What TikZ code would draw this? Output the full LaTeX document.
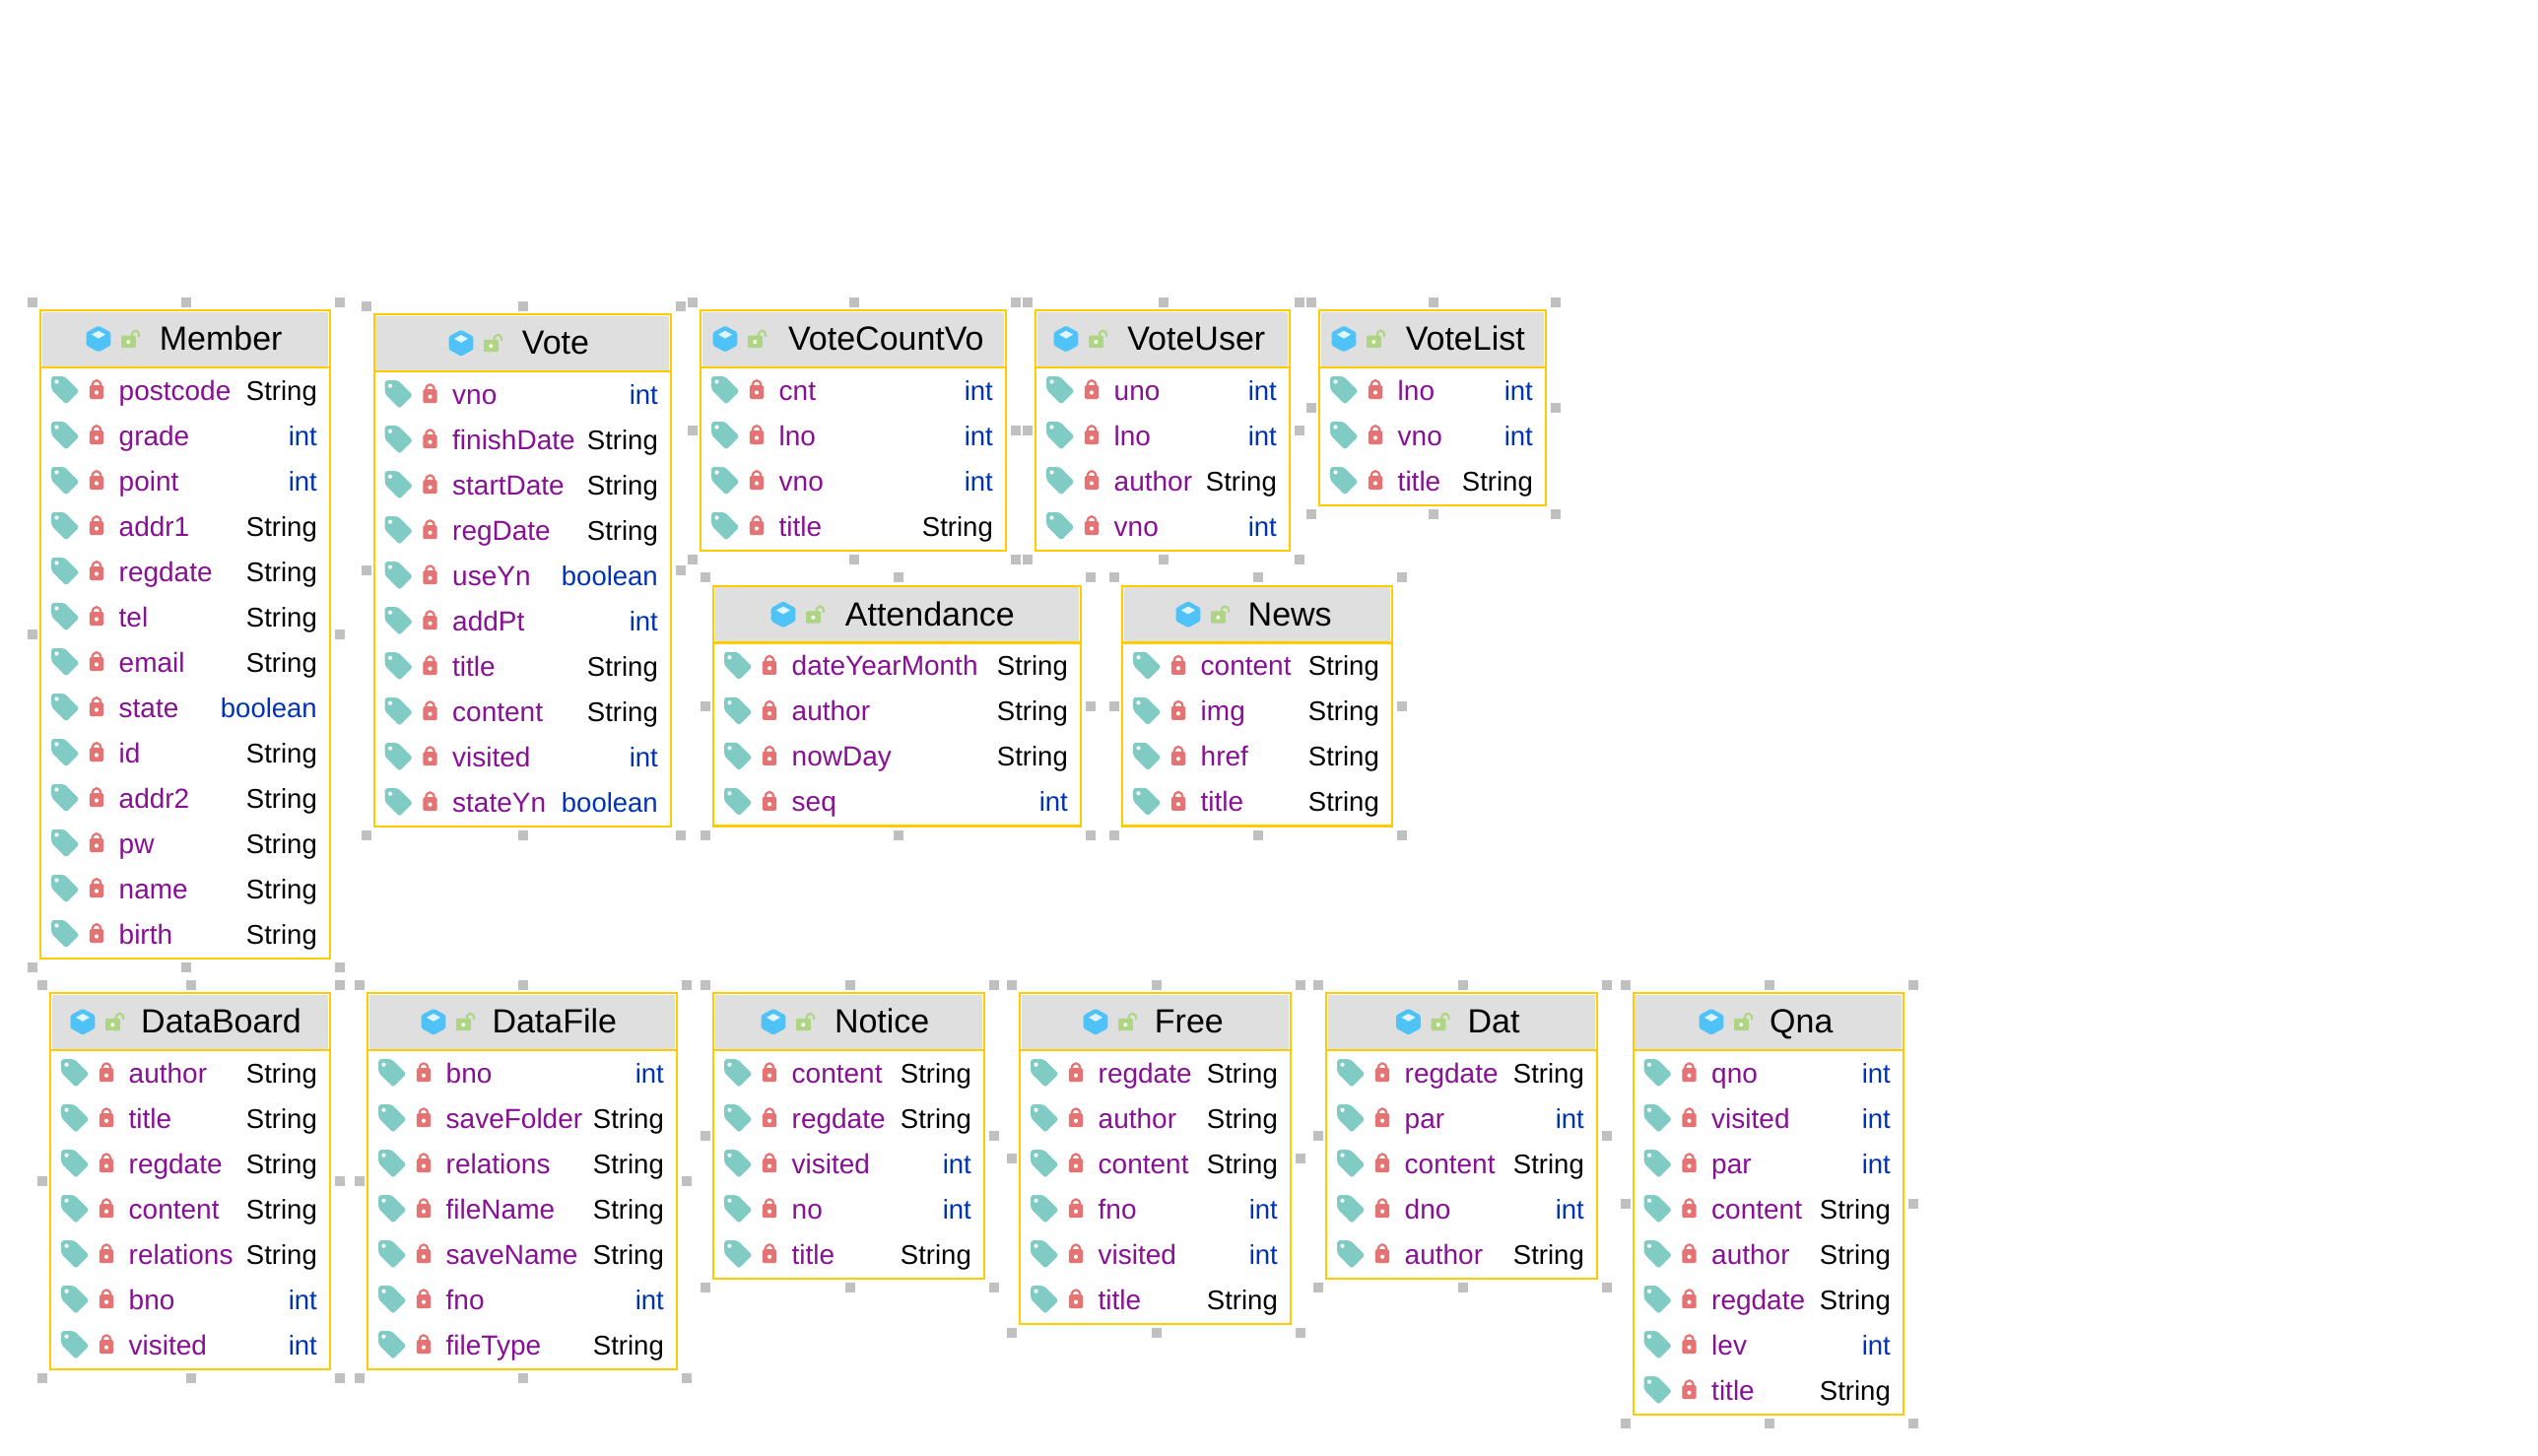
\documentclass[tikz,border=0pt]{standalone}
\usepackage{fontspec}
\setmainfont{Liberation Sans}
\definecolor{borderY}{HTML}{FFCC00}
\definecolor{headG}{HTML}{DFDFDF}
\definecolor{handleG}{HTML}{C0C0C0}
\definecolor{fieldP}{HTML}{871094}
\definecolor{colString}{HTML}{000000}
\definecolor{colint}{HTML}{0033B3}
\definecolor{colboolean}{HTML}{0033B3}
\definecolor{cubeB}{HTML}{4FC3F7}
\definecolor{cubeT}{HTML}{E1F5FE}
\definecolor{tagT}{HTML}{80CBC4}
\definecolor{lockR}{HTML}{E57373}
\definecolor{lockG}{HTML}{AED581}
\tikzset{
  tablebox/.style={draw=borderY,line width=2.2pt,fill=white,inner sep=0pt,outer sep=0pt},
  headfill/.style={fill=headG},
  headrule/.style={draw=borderY,line width=2.2pt},
  handlemark/.style={fill=handleG},
  titletext/.style={inner sep=0pt,anchor=base,text=black,font=\fontsize{34}{40}\selectfont},
  fieldname/.style={inner sep=0pt,anchor=base west,text=fieldP,font=\fontsize{28}{34}\selectfont},
  fieldtype/.style={inner sep=0pt,anchor=base east,font=\fontsize{27.5}{34}\selectfont},
}
\newcommand{\hmark}[2]{\fill[handlemark] ({#1-5},{#2-5}) rectangle ({#1+5},{#2+5});}
\newcommand{\tagicon}[2]{%
  \begin{scope}[shift={(#1,#2)}]
    \fill[tagT,rounded corners=2.6pt] (-13.8,-14) -- (-0.5,-14) -- (14.5,1) -- (1,14.5) -- (-13.8,-0.5) -- cycle;
    \fill[white] (-8.5,-8.5) circle (2.1);
  \end{scope}}
\newcommand{\lockicon}[2]{%
  \begin{scope}[shift={(#1,#2)}]
    \draw[lockR,line width=2.2pt] (-4.3,-4) .. controls (-4.3,-11.8) and (4.3,-11.8) .. (4.3,-4);
    \fill[lockR,rounded corners=1.5pt] (-7.2,-5) rectangle (7.2,9);
    \fill[white] (0,2.5) circle (2.1);
  \end{scope}}
\newcommand{\cubeicon}[2]{%
  \begin{scope}[shift={(#1,#2)}]
    \fill[cubeB,rounded corners=1.5pt] (0,-13.4) -- (12.4,-6.6) -- (12.4,6.6) -- (0,13.4) -- (-12.4,6.6) -- (-12.4,-6.6) -- cycle;
    \fill[cubeT] (0,-8.2) -- (7,-4.4) -- (0,-0.4) -- (-7,-4.4) -- cycle;
    \draw[lockG,line width=2pt] (33.5,-2.5) .. controls (33.5,-10.5) and (41.5,-10.5) .. (41.2,-2.2);
    \fill[lockG,rounded corners=1pt] (23,-3.4) rectangle (37.8,8.8);
    \fill[white] (30.3,3) circle (2);
  \end{scope}}
% #1 name  #2 left  #3 right  #4 top  #5 number of rows  #6 cube x  #7 title centre x  #8 rows
\newcommand{\umlTable}[8]{%
  \pgfmathsetmacro{\tblB}{#4+60.5+46*#5}
  \pgfmathsetmacro{\tblCx}{(#2+#3)/2}
  \pgfmathsetmacro{\tblHx}{\tblCx+1}
  \pgfmathsetmacro{\tblHy}{(#4+\tblB+1)/2}
  \node[tablebox,minimum width={(#3-#2-0.6)*1pt},minimum height={(\tblB-#4-0.8)*1pt}] (#1) at (\tblCx,{(#4+\tblB)/2}) {};
  \fill[headfill] ({#2+1.6},{#4+2}) rectangle ({#3-1.6},{#4+57.2});
  \draw[headrule] ({#2+0.3},{#4+58.2}) -- ({#3-0.3},{#4+58.2});
  \cubeicon{#6}{#4+29.5}
  \node[titletext] (#1-title) at (#7,{#4+41}) {#1};
  \foreach \fn/\ft [count=\ri from 0] in {#8}{
    \pgfmathsetmacro{\rowY}{#4+81.5+46*\ri}
    \tagicon{#2+25}{\rowY}
    \lockicon{#2+57}{\rowY}
    \node[fieldname] (#1-n\ri) at ({#2+79.5},{\rowY+10}) {\fn};
    \node[fieldtype,text=col\ft] (#1-t\ri) at ({#3-13},{\rowY+10}) {\ft};
  }
  \hmark{#2-8}{#4-8}\hmark{\tblHx}{#4-8}\hmark{#3+10}{#4-8}
  \hmark{#2-8}{\tblHy}\hmark{#3+10}{\tblHy}
  \hmark{#2-8}{\tblB+9}\hmark{\tblHx}{\tblB+9}\hmark{#3+10}{\tblB+9}
}
\begin{document}
\begin{tikzpicture}[x=1pt,y=-1pt]
\useasboundingbox (0,0) rectangle (2576,1478);
\umlTable{Member}{41}{335}{314.5}{13}{100}{224.2}{postcode/String,grade/int,point/int,addr1/String,regdate/String,tel/String,email/String,state/boolean,id/String,addr2/String,pw/String,name/String,birth/String}
\umlTable{Vote}{379.5}{681}{318.7}{10}{468}{564}{vno/int,finishDate/String,startDate/String,regDate/String,useYn/boolean,addPt/int,title/String,content/String,visited/int,stateYn/boolean}
\umlTable{VoteCountVo}{711}{1021}{314.5}{4}{736}{899.4}{cnt/int,lno/int,vno/int,title/String}
\umlTable{VoteUser}{1051}{1309}{314.5}{4}{1082}{1214.3}{uno/int,lno/int,author/String,vno/int}
\umlTable{VoteList}{1339}{1569}{314.5}{3}{1364}{1487.3}{lno/int,vno/int,title/String}
\umlTable{Attendance}{724}{1097}{594.3}{4}{795}{943.9}{dateYearMonth/String,author/String,nowDay/String,seq/int}
\umlTable{News}{1139}{1413}{594.3}{4}{1206}{1309.2}{content/String,img/String,href/String,title/String}
\umlTable{DataBoard}{51}{335}{1007.7}{7}{84}{224.5}{author/String,title/String,regdate/String,content/String,relations/String,bno/int,visited/int}
\umlTable{DataFile}{373}{687}{1007.7}{7}{440}{562.8}{bno/int,saveFolder/String,relations/String,fileName/String,saveName/String,fno/int,fileType/String}
\umlTable{Notice}{724}{999}{1007.7}{5}{785}{895.2}{content/String,regdate/String,visited/int,no/int,title/String}
\umlTable{Free}{1035}{1310}{1007.7}{6}{1112}{1206.9}{regdate/String,author/String,content/String,fno/int,visited/int,title/String}
\umlTable{Dat}{1346}{1621}{1007.7}{5}{1429.5}{1516}{regdate/String,par/int,content/String,dno/int,author/String}
\umlTable{Qna}{1657.5}{1932}{1007.7}{8}{1737}{1828.3}{qno/int,visited/int,par/int,content/String,author/String,regdate/String,lev/int,title/String}
\end{tikzpicture}
\end{document}
